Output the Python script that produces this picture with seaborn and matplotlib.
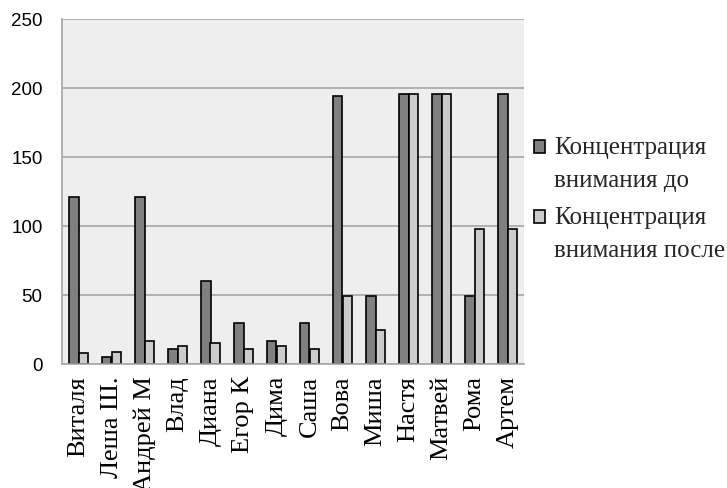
import matplotlib.pyplot as plt
import pandas as pd
import seaborn as sns
from matplotlib.legend_handler import HandlerPatch
from matplotlib.patches import Rectangle

names = ['Виталя', 'Леша Ш.', 'Андрей М', 'Влад', 'Диана', 'Егор К', 'Дима',
         'Саша', 'Вова', 'Миша', 'Настя', 'Матвей', 'Рома', 'Артем']
before = [121, 5, 121, 11, 60, 30, 17, 30, 194, 49, 196, 196, 49, 196]
after = [8, 9, 17, 13, 15, 11, 13, 11, 49, 25, 196, 196, 98, 98]
series = ['Концентрация\nвнимания до', 'Концентрация\nвнимания после']

df = pd.DataFrame({'name': names * 2,
                   'value': before + after,
                   'series': [series[0]] * len(names) + [series[1]] * len(names)})

sns.set_theme(style='white')
serif = ['Liberation Serif', 'DejaVu Serif']

fig = plt.figure(figsize=(7.27, 4.89), dpi=100)
ax = fig.add_axes([62 / 727, 1 - 365 / 489, 462 / 727, 345 / 489])
ax.set_facecolor('#eeeeee')
sns.barplot(data=df, x='name', y='value', hue='series', hue_order=series,
            palette=['#808080', '#cccccc'], edgecolor='black', linewidth=1.2,
            width=0.56, ax=ax)

ax.set_ylim(0, 250)
ax.set_yticks(range(0, 251, 50))
ax.yaxis.grid(True, color='#a6a6a6', linewidth=1.2)
ax.set_axisbelow(True)
for s in ['top', 'right']:
    ax.spines[s].set_visible(False)
for s in ['left', 'bottom']:
    ax.spines[s].set_color('#a6a6a6')
    ax.spines[s].set_linewidth(1.2)
ax.set_xlabel('')
ax.set_ylabel('')
ax.tick_params(axis='y', labelsize=13.5, pad=14, length=0, labelcolor='black')
ax.tick_params(axis='x', length=0, pad=8, labelcolor='black')
for lab in ax.get_yticklabels():
    lab.set_family(['Liberation Sans', 'DejaVu Sans'])
for lab in ax.get_xticklabels():
    lab.set_rotation(90)
    lab.set_family(serif)
    lab.set_fontsize(19)


# legend square sits next to the first line of the two-line label
def top_square(legend, orig_handle, xdescent, ydescent, width, height, fontsize):
    return Rectangle((-xdescent, -ydescent + 0.66 * fontsize), width, height)


handles, labels = ax.get_legend_handles_labels()
leg = ax.legend(handles, labels, loc='center left', bbox_to_anchor=(1.0, 0.48),
                frameon=False, prop={'family': serif, 'size': 18},
                handlelength=0.45, handleheight=0.45, handletextpad=0.35,
                labelspacing=0.6, borderpad=0, borderaxespad=0.4,
                handler_map={h: HandlerPatch(patch_func=top_square) for h in handles})
for t in leg.get_texts():
    t.set_linespacing(1.65)

fig.savefig('out.png', dpi=100)
